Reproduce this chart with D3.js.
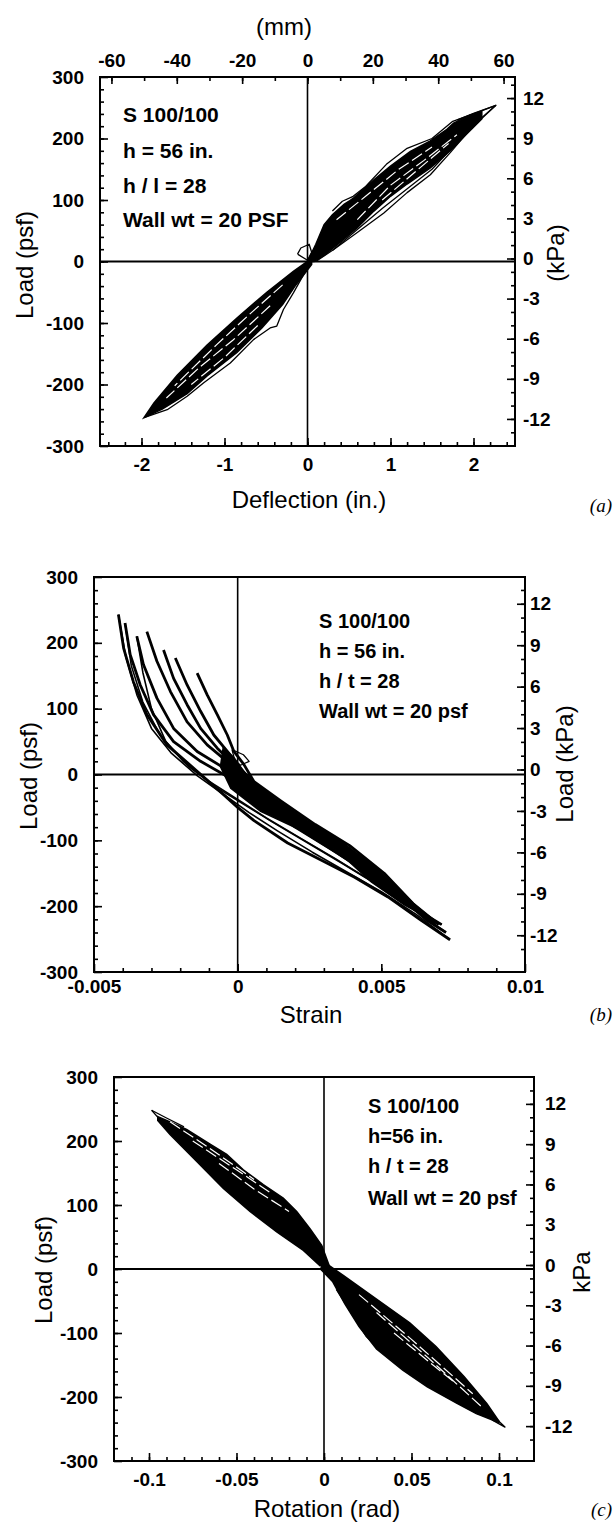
<!DOCTYPE html>
<html>
<head>
<meta charset="utf-8">
<script src="https://cdn.jsdelivr.net/npm/d3@7"></script>
<style>
body { margin: 0; background: #fff; }
svg { display: block; font-family: "Liberation Sans", Arial, sans-serif; }
</style>
</head>
<body>
<svg id="fig" width="614" height="1522"></svg>
<script>
// ---- tick values ----
var psfTicks = [-300, -200, -100, 0, 100, 200, 300];
var kpaTicks = [-12, -9, -6, -3, 0, 3, 6, 9, 12];
var deflTicks = [-2, -1, 0, 1, 2];
var mmTicks = [-60, -40, -20, 0, 20, 40, 60];
var strainTicks = [-0.005, 0, 0.005, 0.01];
var strainLabels = ["-0.005", "0", "0.005", "0.01"];
var rotTicks = [-0.1, -0.05, 0, 0.05, 0.1];
var rotLabels = ["-0.1", "-0.05", "0", "0.05", "0.1"];

var notesA = ["S 100/100", "h = 56 in.", "h / l = 28", "Wall wt = 20 PSF"];
var notesB = ["S 100/100", "h = 56 in.", "h / t = 28", "Wall wt = 20 psf"];
var notesC = ["S 100/100", "h=56 in.", "h / t = 28", "Wall wt = 20 psf"];

// ---- (a) load vs deflection, [in, psf] ----
var deflPosBand = [[0,0],[0.1,28],[0.2,60],[0.3,76],[0.44,93],[0.5,98],[0.56,104],[0.8,133],[1.0,155],[1.24,179],[1.48,196],[1.68,215],[1.76,225],[1.96,238],[2.1,244],
  [2.1,232],[1.9,205],[1.72,180],[1.48,152],[1.2,126],[1.0,106],[0.8,82],[0.6,55],[0.4,32],[0.2,10],[0.08,0]];
var deflNegBand = [[0.05,5],[-0.17,-16],[-0.49,-50],[-0.85,-92],[-1.21,-136],[-1.57,-185],[-1.85,-230],[-1.97,-254],
  [-1.75,-240],[-1.45,-215],[-1.21,-186],[-0.85,-148],[-0.55,-108],[-0.3,-70],[-0.15,-40],[0.05,-5]];
var deflLoops = [
  [[0.1,0],[0.32,20],[0.6,47],[0.92,79],[1.2,112],[1.48,141],[1.72,177],[1.96,215],[2.27,254],[2.0,241],[1.8,230]],
  [[0.3,18],[0.9,86],[1.5,150],[2.0,222],[2.27,254]],
  [[0.3,82],[0.42,98],[0.55,106],[0.7,122],[0.95,158],[1.2,184],[1.5,200],[1.75,228],[2.0,240],[2.27,254]],
  [[0,-10],[-0.17,-51],[-0.29,-78],[-0.37,-105],[-0.45,-108],[-0.65,-127],[-0.93,-165],[-1.25,-197],[-1.45,-219],[-1.69,-241],[-1.97,-254]],
  [[-0.12,12],[-0.08,22],[0.02,28],[0.05,15],[0,2],[-0.12,12]]
];
var deflStreaks = [
  [[0.35,68],[0.7,106],[1.1,150],[1.5,186]],
  [[0.6,68],[1.0,124],[1.4,164],[1.8,206]],
  [[0.9,100],[1.3,146],[1.7,192]],
  [[-0.3,-38],[-0.7,-86],[-1.1,-136],[-1.6,-202]],
  [[-0.45,-72],[-0.9,-128],[-1.3,-172],[-1.7,-222]],
  [[-0.6,-104],[-1.0,-156],[-1.4,-200]]
];

// ---- (b) load vs strain, [strain, psf] ----
var strainDense = [[-0.0005,42],[-0.0001,24],[0.0001,10],[0.00115,-36],[0.00232,-71],[0.00349,-102],[0.00488,-147],[0.00593,-193],[0.00663,-218],
  [0.0058,-198],[0.00465,-163],[0.00349,-117],[0.00232,-87],[0.0008,-56],[-0.00024,-21],[-0.0006,12]];
var strainCycles = [
  [[-0.00415,243],[-0.00397,192],[-0.00363,141],[-0.00316,91],[-0.00246,45],[-0.00141,5],[-0.00048,-31],[0,-50],[0.00057,-70],[0.00174,-104],[0.0029,-130],[0.00407,-156],[0.00523,-186],[0.0064,-222],[0.00739,-251]],
  [[-0.00392,230],[-0.00374,182],[-0.00339,136],[-0.00293,91],[-0.00223,50],[-0.00129,20],[-0.00024,-6],[0.0008,-40],[0.002,-80],[0.0032,-112],[0.0044,-145],[0.0056,-182],[0.0066,-215],[0.0071,-228]],
  [[-0.00351,210],[-0.00328,167],[-0.00281,116],[-0.00223,70],[-0.00141,35],[-0.00048,10],[0.0001,-11],[0.001,-45],[0.0022,-84],[0.0034,-117],[0.0046,-152],[0.0057,-188],[0.0066,-222],[0.00725,-240]],
  [[-0.00316,217],[-0.00281,172],[-0.00234,126],[-0.00176,80],[-0.00106,45],[-0.00024,15],[0.00022,-6],[0.0012,-40],[0.0024,-76],[0.0036,-108],[0.0048,-145],[0.0059,-188],[0.0067,-222]],
  [[-0.00258,189],[-0.00223,146],[-0.00176,106],[-0.00129,70],[-0.00071,40],[-0.00013,15],[0.00034,-6],[0.0013,-38],[0.0025,-74],[0.0037,-106],[0.0049,-146],[0.0059,-190],[0.0068,-222]],
  [[-0.00217,177],[-0.00176,136],[-0.00129,96],[-0.00083,60],[-0.00036,35],[0.0001,10],[0.00045,-11],[0.0014,-42],[0.0026,-80],[0.0038,-112],[0.005,-155],[0.006,-198],[0.0069,-226]],
  [[-0.00141,154],[-0.00106,121],[-0.00071,91],[-0.00036,60],[-0.00013,35],[0.00022,15],[0.00057,-11],[0.0015,-40],[0.0027,-76],[0.0039,-108],[0.0051,-150],[0.0061,-196],[0.007,-228]]
];
var strainReturns = [
  [[0.00739,-251],[0.0062,-212],[0.005,-178],[0.0038,-148],[0.0026,-118],[0.0014,-86],[0.0004,-58],[-0.0005,-30],[-0.0014,-2],[-0.0023,32],[-0.003,70],[-0.0035,120],[-0.0039,180],[-0.00415,243]],
  [[0.0071,-228],[0.0058,-196],[0.0046,-160],[0.0034,-128],[0.0022,-97],[0.001,-66],[0,-38],[-0.001,-10],[-0.0019,20],[-0.0027,60],[-0.0033,110],[-0.0037,165],[-0.00392,230]],
  [[0.00725,-240],[0.006,-200],[0.0048,-166],[0.0036,-134],[0.0024,-103],[0.0012,-72],[0.0002,-45],[-0.0008,-18],[-0.0017,12],[-0.0025,50],[-0.003,100],[-0.0033,155],[-0.00351,210]]
];
var strainSmallLoop = [[-0.0002,38],[0.0002,30],[0.0004,20],[0.0001,14],[-0.0001,22],[-0.0002,38]];

// ---- (c) load vs rotation, [rad, psf] ----
var rotNegBand = [[0.003,5],[-0.0013,37],[-0.008,63],[-0.0156,90],[-0.0233,111],[-0.0347,132],[-0.0461,155],[-0.0556,179],[-0.0651,195],[-0.0785,218],[-0.0899,232],[-0.095,238],
  [-0.095,232],[-0.088,210],[-0.0727,168],[-0.0575,126],[-0.0423,90],[-0.027,58],[-0.0118,29],[-0.0023,5]];
var rotPosBand = [[0,11],[0.011,-10],[0.03,-47],[0.049,-84],[0.064,-121],[0.08,-168],[0.093,-210],[0.1,-238],
  [0.1,-240],[0.087,-226],[0.076,-210],[0.059,-184],[0.045,-158],[0.03,-125],[0.02,-90],[0.012,-55],[0.005,-20],[-0.002,0]];
var rotLoops = [
  [[-0.0985,248],[-0.09,236],[-0.08,222]],
  [[-0.0985,248],[-0.092,228],[-0.085,212]],
  [[0.007,-32],[0.017,-74],[0.024,-105],[0.032,-126],[0.038,-137],[0.045,-142]],
  [[0.09,-212],[0.1034,-247],[0.096,-236]]
];
var rotStreaks = [
  [[-0.088,230],[-0.065,188],[-0.04,140]],
  [[-0.075,200],[-0.05,155],[-0.03,118]],
  [[-0.06,165],[-0.04,125],[-0.02,90]],
  [[0.02,-40],[0.05,-110],[0.085,-195]],
  [[0.03,-68],[0.06,-140],[0.09,-215]],
  [[0.04,-100],[0.06,-145],[0.075,-178]]
];

var svg = d3.select("#fig");
var dash = function(d) { return d < 0 ? "-" + Math.abs(d) : String(d); };

function drawPanel(p) {
  var x = d3.scaleLinear().domain(p.xDomain).range([p.left, p.right]);
  var y = d3.scaleLinear().domain([-300, 300]).range([p.bottom, p.top]);
  var yk = d3.scaleLinear().domain([-p.kpaMax, p.kpaMax]).range([p.bottom - p.kShift, p.top - p.kShift]);
  var line = d3.line().x(function(d) { return x(d[0]); }).y(function(d) { return y(d[1]); });
  var g = svg.append("g");

  // zero lines
  g.append("line").attr("x1", x(0)).attr("x2", x(0)).attr("y1", p.top).attr("y2", p.bottom)
    .attr("stroke", "#000").attr("stroke-width", 1.6);
  g.append("line").attr("x1", p.left).attr("x2", p.right).attr("y1", y(0)).attr("y2", y(0))
    .attr("stroke", "#000").attr("stroke-width", 2);

  // data
  p.bands.forEach(function(b) {
    g.append("path").attr("d", line(b) + "Z").attr("fill", "#000").attr("stroke", "#000").attr("stroke-width", 1.5);
  });
  p.lines.forEach(function(l) {
    g.append("path").attr("d", line(l)).attr("fill", "none").attr("stroke", "#000")
      .attr("stroke-width", l.w).attr("stroke-linejoin", "round");
  });
  p.streaks.forEach(function(s) {
    g.append("path").attr("d", line(s)).attr("fill", "none").attr("stroke", "#fff")
      .attr("stroke-width", 1.2).attr("stroke-dasharray", "12 4");
  });

  // frame
  g.append("rect").attr("x", p.left).attr("y", p.top).attr("width", p.right - p.left).attr("height", p.bottom - p.top)
    .attr("fill", "none").attr("stroke", "#000").attr("stroke-width", 2);

  // axes
  function styleAxis(sel, size) {
    sel.select(".domain").remove();
    sel.selectAll("line").attr("stroke", "#000").attr("stroke-width", 1.6);
    sel.selectAll("text").attr("font-size", size).attr("font-weight", "bold").attr("fill", "#000")
      .attr("font-family", "'Liberation Sans', Arial, sans-serif");
  }
  var left = g.append("g").attr("transform", "translate(" + p.left + ",0)")
    .call(d3.axisLeft(y).tickValues(psfTicks).tickFormat(dash).tickSizeInner(-8).tickSizeOuter(0).tickPadding(16));
  styleAxis(left, 19);
  var leftMinor = g.append("g").attr("transform", "translate(" + p.left + ",0)")
    .call(d3.axisLeft(y).tickValues(d3.range(-280, 300, 20)).tickFormat("").tickSizeInner(-4).tickSizeOuter(0));
  styleAxis(leftMinor, 0);

  var right = g.append("g").attr("transform", "translate(" + p.right + ",0)")
    .call(d3.axisRight(yk).tickValues(kpaTicks).tickFormat(dash).tickSizeInner(-8).tickSizeOuter(0).tickPadding(p.rightPad));
  styleAxis(right, 19);
  var rightMinor = g.append("g").attr("transform", "translate(" + p.right + ",0)")
    .call(d3.axisRight(yk).tickValues(d3.range(-13, 14, 1)).tickFormat("").tickSizeInner(-4).tickSizeOuter(0));
  styleAxis(rightMinor, 0);

  var bottom = g.append("g").attr("transform", "translate(0," + p.bottom + ")")
    .call(d3.axisBottom(x).tickValues(p.xTicks).tickFormat(function(d, i) { return p.xLabels[i]; })
      .tickSizeInner(-8).tickSizeOuter(0).tickPadding(p.bottomPad));
  styleAxis(bottom, 19);
  var bottomMinor = g.append("g").attr("transform", "translate(0," + p.bottom + ")")
    .call(d3.axisBottom(x).tickValues(p.xMinor).tickFormat("").tickSizeInner(-4).tickSizeOuter(0));
  styleAxis(bottomMinor, 0);

  if (p.topScale) {
    var xt = d3.scaleLinear().domain(p.xDomain.map(function(v) { return v * 25.4; })).range([p.left, p.right]);
    var top = g.append("g").attr("transform", "translate(0," + p.top + ")")
      .call(d3.axisTop(xt).tickValues(mmTicks).tickFormat(dash).tickSizeInner(-7).tickSizeOuter(0).tickPadding(10));
    styleAxis(top, 19);
    var topMinor = g.append("g").attr("transform", "translate(0," + p.top + ")")
      .call(d3.axisTop(xt).tickValues(d3.range(-60, 61, 10)).tickFormat("").tickSizeInner(-4).tickSizeOuter(0));
    styleAxis(topMinor, 0);
  }

  // notes
  g.selectAll(".note").data(p.notes).enter().append("text")
    .attr("x", p.noteX).attr("y", function(d, i) { return p.noteY[i]; })
    .attr("font-size", p.noteSize).attr("font-weight", "bold").text(function(d) { return d; });

  // titles
  p.titles.forEach(function(t) {
    var tx = g.append("text").attr("text-anchor", "middle").attr("font-size", 24).text(t.text);
    if (t.rot) tx.attr("transform", "translate(" + t.x + "," + t.y + ") rotate(-90)");
    else tx.attr("x", t.x).attr("y", t.y);
  });
  g.append("text").attr("x", 612).attr("y", p.tag[0]).attr("text-anchor", "end").attr("font-size", 19)
    .attr("font-style", "italic").attr("font-family", "'Liberation Serif', 'Times New Roman', serif").text(p.tag[1]);
}

function withWidth(arr, w) { arr.w = w; return arr; }

drawPanel({
  xDomain: [-2.5, 2.5], left: 100, right: 515, top: 77, bottom: 446,
  kpaMax: 13.8, kShift: 3, rightPad: 8, bottomPad: 12,
  xTicks: deflTicks, xLabels: deflTicks.map(dash), xMinor: d3.range(-2.4, 2.5, 0.2),
  topScale: true,
  bands: [deflPosBand, deflNegBand],
  lines: deflLoops.map(function(l) { return withWidth(l, 1.3); }),
  streaks: deflStreaks,
  notes: notesA, noteX: 123, noteY: [122, 158, 193, 227], noteSize: 21,
  titles: [
    { text: "(mm)", x: 284, y: 35 },
    { text: "Deflection (in.)", x: 309, y: 508 },
    { text: "Load (psf)", x: 33, y: 265, rot: true },
    { text: "(kPa)", x: 564, y: 253, rot: true }
  ],
  tag: [512, "(a)"]
});

drawPanel({
  xDomain: [-0.005, 0.01], left: 94, right: 525, top: 577, bottom: 972,
  kpaMax: 14.3, kShift: 5, rightPad: 5, bottomPad: 8,
  xTicks: strainTicks, xLabels: strainLabels, xMinor: d3.range(-0.004, 0.01, 0.001),
  topScale: false,
  bands: [strainDense],
  lines: strainCycles.map(function(l) { return withWidth(l, 2.8); })
    .concat(strainReturns.map(function(l) { return withWidth(l, 1.6); }))
    .concat([withWidth(strainSmallLoop, 1.2)]),
  streaks: [],
  notes: notesB, noteX: 319, noteY: [628, 658, 688, 718], noteSize: 20,
  titles: [
    { text: "Strain", x: 311, y: 1023 },
    { text: "Load (psf)", x: 37, y: 776, rot: true },
    { text: "Load (kPa)", x: 573, y: 764, rot: true }
  ],
  tag: [1021, "(b)"]
});

drawPanel({
  xDomain: [-0.12, 0.12], left: 114, right: 534, top: 1077, bottom: 1461,
  kpaMax: 14.3, kShift: 4, rightPad: 11, bottomPad: 12,
  xTicks: rotTicks, xLabels: rotLabels, xMinor: d3.range(-0.11, 0.12, 0.01),
  topScale: false,
  bands: [rotNegBand, rotPosBand],
  lines: rotLoops.map(function(l) { return withWidth(l, 1.3); }),
  streaks: rotStreaks,
  notes: notesC, noteX: 368, noteY: [1113, 1143, 1173, 1205], noteSize: 20,
  titles: [
    { text: "Rotation (rad)", x: 327, y: 1517 },
    { text: "Load (psf)", x: 52, y: 1270, rot: true },
    { text: "kPa", x: 590, y: 1272, rot: true }
  ],
  tag: [1516, "(c)"]
});
</script>
</body>
</html>
